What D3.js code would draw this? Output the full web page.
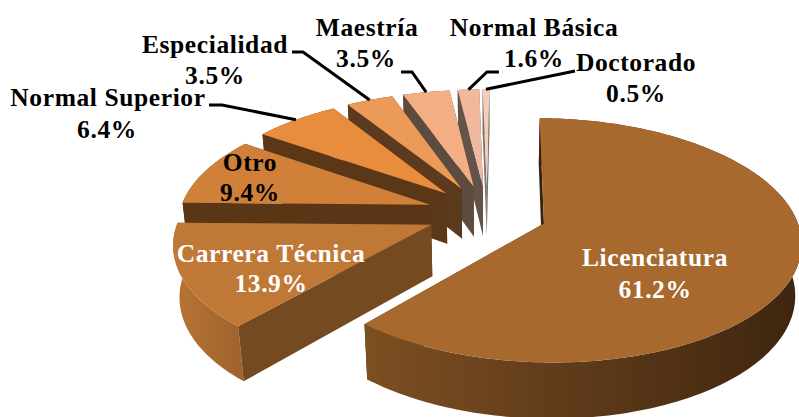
<!DOCTYPE html>
<html><head><meta charset="utf-8">
<script src="https://cdnjs.cloudflare.com/ajax/libs/d3/7.8.5/d3.min.js"></script>
<style>html,body{margin:0;padding:0;background:#fff}svg{display:block}
text{font-family:"Liberation Serif","Times New Roman",serif;font-weight:700;font-size:25.5px;text-anchor:middle;letter-spacing:.6px}</style>
</head><body><svg id="c" width="799" height="417"></svg>
<script>
const categories=["Licenciatura","Carrera Técnica","Otro","Normal Superior","Especialidad","Maestría","Normal Básica","Doctorado"];
const values=[61.2,13.9,9.4,6.4,3.5,3.5,1.6,0.5];
const valueLabels=["61.2%","13.9%","9.4%","6.4%","3.5%","3.5%","1.6%","0.5%"];
const topColors=["#a8692e","#c07837","#d08039","#e88d3e","#ec9a58","#f4ae84","#f0b89c","#f5cdb8"];
const cutColors=["#38220e","#744a20","#5a3616","#5a3817","#5b3a1e","#5e4b40","#635349","#7a7470"];
const wallLight=["#7d4f22","#b87434","#5a3616","#5a3817","#5b3a1e","#5e4b40","#635349","#7a7470"];
const wallDark=["#3e2510","#a0642c","#5a3616","#5a3817","#5b3a1e","#5e4b40","#635349","#7a7470"];
const labelColors=["#fff","#fff","#000","#000","#000","#000","#000","#000"];
const labelX=[655,271,250,108,215,367,534,636];
const labelY=[266,262,171,106,53,36,36,71];
const valueX=[655,271,250,107,215,366,534,636];
const valueY=[298,292,201,138,84,67,67,102];
const leaderElbows=[null,null,null,[[209,105],[222,105]],[[292,52],[303,52]],[[401,72],[412,72]],[[499,72],[487,72]],[[575,71]]];

// perspective pie model
const P={cx:487,cy:213.3,a:251,b:117,k:0.137,m:0.02,d:52,explode:0.24,rot:0.012};
function project(X,Y,z){const w=1-P.k*Y+P.m*z;return [P.cx+P.a*X/w,P.cy+(P.b*Y+P.d*z)/w];}

const svg=d3.select("#c");
const defs=svg.append("defs");
const arcs=d3.pie().sort(null).startAngle(P.rot).endAngle(2*Math.PI+P.rot)(values);
const line=d3.line();
const poly=p=>line(p)+"Z";
const slices=arcs.map((s,i)=>{
  const mid=(s.startAngle+s.endAngle)/2;
  const ox=P.explode*Math.sin(mid),oy=-P.explode*Math.cos(mid);
  const n=Math.max(2,Math.ceil((s.endAngle-s.startAngle)/0.02));
  const angs=d3.range(n+1).map(j=>s.startAngle+(s.endAngle-s.startAngle)*j/n);
  const rim=z=>angs.map(t=>project(ox+Math.sin(t),oy-Math.cos(t),z));
  return {i,mid,ox,oy,apex:z=>project(ox,oy,z),rim};
});
[...slices].reverse().forEach(s=>{
  const g=svg.append("g"),i=s.i,top=s.rim(0),bot=s.rim(1);
  const gid="w"+i,xs=top.map(p=>p[0]);
  const gr=defs.append("linearGradient").attr("id",gid).attr("gradientUnits","userSpaceOnUse")
    .attr("x1",d3.min(xs)).attr("x2",d3.max(xs)).attr("y1",0).attr("y2",0);
  gr.append("stop").attr("offset",0).attr("stop-color",wallLight[i]);
  gr.append("stop").attr("offset",1).attr("stop-color",wallDark[i]);
  const ca=[s.apex(0),s.apex(1)];
  g.append("path").attr("d",poly([ca[0],top[top.length-1],bot[bot.length-1],ca[1]])).attr("fill",cutColors[i]);
  g.append("path").attr("d",poly(top.concat([...bot].reverse()))).attr("fill",`url(#${gid})`);
  g.append("path").attr("d",poly([ca[0],top[0],bot[0],ca[1]])).attr("fill",cutColors[i]);
  g.append("path").attr("d",poly([ca[0],...top])).attr("fill",topColors[i]);
});
// leaders
slices.forEach(s=>{
  const el=leaderElbows[s.i]; if(!el)return;
  const t=s.mid,end=project(s.ox+Math.sin(t),s.oy-Math.cos(t),0);
  svg.append("path").attr("d",line([...el,end])).attr("fill","none").attr("stroke","#000").attr("stroke-width",3);
});
categories.forEach((c,i)=>{
  svg.append("text").attr("x",labelX[i]).attr("y",labelY[i]).attr("fill",labelColors[i]).text(c);
  svg.append("text").attr("x",valueX[i]).attr("y",valueY[i]).attr("fill",labelColors[i]).text(valueLabels[i]);
});
</script></body></html>
